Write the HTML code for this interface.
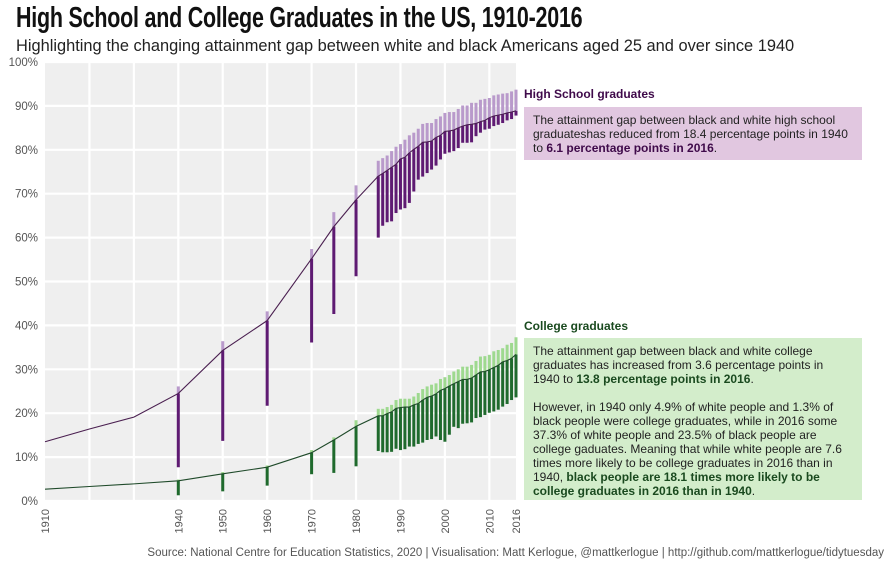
<!DOCTYPE html>
<html><head><meta charset="utf-8">
<style>
body{margin:0;background:#fff;width:896px;height:569px;overflow:hidden;font-family:"Liberation Sans",sans-serif;}
#title{position:absolute;left:16px;top:2px;font-family:"Liberation Sans Narrow","Liberation Sans",sans-serif;font-weight:bold;font-size:29px;color:#111;transform:scaleX(0.74);transform-origin:left top;white-space:nowrap;letter-spacing:-0.3px}
#subtitle{position:absolute;left:16px;top:37px;font-size:16.4px;color:#222;white-space:nowrap}
.lab{position:absolute;font-size:12px;font-weight:bold;white-space:nowrap}
.box{position:absolute;left:524px;width:338px;box-sizing:border-box;padding:6px 9px;font-size:12px;line-height:14px;color:#222}
#caption{position:absolute;right:12px;top:547px;font-size:11.5px;color:#555;white-space:nowrap}
</style></head><body>
<div id="title">High School and College Graduates in the US, 1910-2016</div>
<div id="subtitle">Highlighting the changing attainment gap between white and black Americans aged 25 and over since 1940</div>
<svg id="chart" width="896" height="569" style="position:absolute;left:0;top:0"></svg>
<div class="lab" style="left:524px;top:87px;color:#3f0a4a">High School graduates</div>
<div class="box" style="top:107px;height:53px;background:#e1c7e0">The attainment gap between black and white high school graduateshas reduced from 18.4 percentage points in 1940 to <b style="color:#3f0a4a">6.1 percentage points in 2016</b>.</div>
<div class="lab" style="left:524px;top:319px;color:#1a4a1f">College graduates</div>
<div class="box" style="top:338px;height:162px;background:#d3edcb">The attainment gap between black and white college graduates has increased from 3.6 percentage points in 1940 to <b style="color:#1a4a1f">13.8 percentage points in 2016</b>.<br><br>However, in 1940 only 4.9% of white people and 1.3% of black people were college graduates, while in 2016 some 37.3% of white people and 23.5% of black people are college gaduates. Meaning that while white people are 7.6 times more likely to be college graduates in 2016 than in 1940, <b style="color:#1a4a1f">black people are 18.1 times more likely to be college graduates in 2016 than in 1940</b>.</div>
<div id="caption">Source: National Centre for Education Statistics, 2020 | Visualisation: Matt Kerlogue, @mattkerlogue | http://github.com/mattkerlogue/tidytuesday</div>
<script>
const years=[1910,1920,1930,1940,1950,1960,1970,1975,1980,1985,1986,1987,1988,1989,1990,1991,1992,1993,1994,1995,1996,1997,1998,1999,2000,2001,2002,2003,2004,2005,2006,2007,2008,2009,2010,2011,2012,2013,2014,2015,2016];
const hsTotal=[13.5,16.4,19.1,24.5,34.3,41.1,55.2,62.5,68.6,74.0,74.6,75.3,76.0,76.7,77.9,78.3,79.3,80.1,80.8,81.7,81.8,82.0,82.8,83.3,84.2,84.3,84.5,85.0,85.4,85.7,85.8,86.0,86.4,86.7,87.3,87.7,87.9,88.1,88.4,88.6,88.9];
const hsWhite=[null,null,null,26.1,36.4,43.2,57.4,65.8,71.9,77.5,78.1,78.7,79.7,80.7,81.3,82.3,83.3,83.9,84.8,85.9,86.1,86.1,87.0,87.6,88.4,88.6,88.6,89.3,90.1,90.1,90.7,90.7,91.4,91.6,91.8,92.4,92.6,92.8,92.9,93.3,93.7];
const hsBlack=[null,null,null,7.7,13.7,21.7,36.1,42.6,51.2,60.0,62.7,63.5,63.7,65.6,66.4,66.7,67.9,70.5,73.2,73.9,74.7,75.5,76.4,77.8,79.1,79.4,79.7,80.4,81.6,81.6,81.7,83.1,83.9,84.6,84.8,85.4,85.7,86.1,86.7,87.0,87.8];
const coTotal=[2.7,3.3,3.9,4.6,6.2,7.7,11.0,13.9,17.0,19.4,19.4,19.9,20.3,21.1,21.3,21.4,21.4,21.9,22.2,23.0,23.6,23.9,24.4,25.2,25.6,26.2,26.7,27.2,27.7,27.7,28.0,28.7,29.4,29.5,29.9,30.4,30.9,31.7,32.0,32.5,33.4];
const coWhite=[null,null,null,4.9,6.6,8.1,11.6,14.5,18.4,21.0,21.0,21.4,21.9,23.0,23.3,23.3,23.3,23.8,24.6,25.5,26.1,26.5,26.8,27.8,28.2,28.7,29.5,30.0,30.6,30.6,31.0,31.9,32.9,33.0,33.3,34.1,34.4,34.8,35.6,36.0,37.3];
const coBlack=[null,null,null,1.3,2.2,3.5,6.1,6.4,7.9,11.4,11.1,11.1,11.2,11.9,11.6,11.8,12.4,12.4,13.0,13.3,13.9,14.1,14.7,13.9,13.5,15.1,16.9,16.6,17.6,17.7,17.9,18.9,19.1,19.6,20.1,20.4,20.8,21.5,22.1,23.0,23.6];
const yTicks=[0,10,20,30,40,50,60,70,80,90,100];
const xLabels=[1910,1940,1950,1960,1970,1980,1990,2000,2010,2016];
const gridYears=[1920,1930,1940,1950,1960,1970,1980,1990,2000,2010];

const NS="http://www.w3.org/2000/svg";
const svg=document.getElementById('chart');
const X0=45,X1=516,Y0=501,Y1=62;
const xs=y=>X0+(y-1910)/(2016-1910)*(X1-X0);
const ys=v=>Y0-v/100*(Y0-Y1);
function mk(tag,at){const e=document.createElementNS(NS,tag);for(const k in at)e.setAttribute(k,at[k]);svg.appendChild(e);return e;}
const bg=mk('rect',{x:X0,y:Y1,width:X1-X0,height:Y0-Y1+1,fill:'#efefef'});


yTicks.forEach(t=>{
  const l=mk('line',{x1:X0,x2:X1,y1:ys(t),y2:ys(t),stroke:'#fff','stroke-width':2.2});
  
  
  const tx=mk('text',{x:38,y:ys(t)+4,'text-anchor':'end','font-size':11.5,fill:'#555','font-family':'Liberation Sans, sans-serif'});
  tx.textContent=t+'%';
  
  
});
gridYears.forEach(g=>{
  const l=mk('line',{x1:xs(g),x2:xs(g),y1:Y1,y2:Y0+1,stroke:'#fff','stroke-width':2.2});
  
  
});
xLabels.forEach(g=>{
  const tx=mk('text',{x:0,y:0,'text-anchor':'end','font-size':11,fill:'#555','font-family':'Liberation Sans, sans-serif',transform:`translate(${xs(g)+4},${Y0+8}) rotate(-90)`});
  tx.textContent=g;
  
  
});
function series(tot,wh,bl,dark,light,lineC,nm){
  years.forEach((yr,i)=>{
    if(wh[i]==null)return;
    const x=xs(yr);
    const a=mk('line',{x1:x,x2:x,y1:ys(bl[i]),y2:ys(tot[i]),stroke:dark,'stroke-width':3});
    
    
    const b=mk('line',{x1:x,x2:x,y1:ys(tot[i]),y2:ys(wh[i]),stroke:light,'stroke-width':3});
    
    
  });
  const p=mk('polyline',{points:years.map((yr,i)=>xs(yr)+','+ys(tot[i])).join(' '),fill:'none',stroke:lineC,'stroke-width':1.1});
  
  
}
series(hsTotal,hsWhite,hsBlack,'#5e1a72','#b99acb','#4a1f50','hs');
series(coTotal,coWhite,coBlack,'#1f6a2d','#9ed98f','#1f4a2a','college');
</script>
</body></html>
